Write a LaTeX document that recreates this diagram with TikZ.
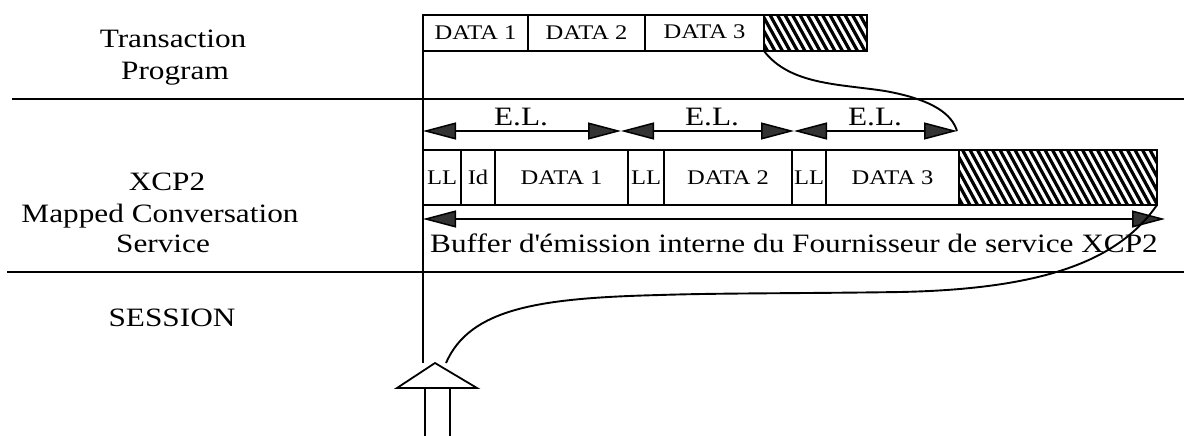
\documentclass[tikz,border=0pt]{standalone}
\usepackage{fontspec}
\setmainfont{Liberation Serif}[FakeStretch=1.18]
\usetikzlibrary{arrows.meta}
\begin{document}
\begin{tikzpicture}[x=1pt,y=-1pt,
  ln/.style={line width=1.6pt},
  crv/.style={line width=1.9pt},
  lbl/.style={font=\fontsize{26.5}{31}\selectfont, inner sep=0, anchor=base},
  cell/.style={draw, line width=1.5pt, inner sep=0, outer sep=0, anchor=north west,
    font=\fontsize{20.8}{23}\selectfont},
  hatchline/.style={line width=3.2pt},
  >={Triangle[length=33pt,width=17pt,fill=black!80]}
]
\useasboundingbox (0,0) rectangle (1184,436);

% separators
\coordinate (l1a) at (12,99);  \coordinate (l1b) at (1184,99);
\coordinate (l2a) at (7,272);  \coordinate (l2b) at (1184,272);
\draw[ln] (l1a) -- (l1b);
\draw[ln] (l2a) -- (l2b);

% left labels
\node[lbl] (tp1) at (173,48) {Transaction};
\node[lbl] (tp2) at (175,80) {Program};
\node[lbl] (x1) at (167,190) {XCP2};
\node[lbl] (x2) at (160,222) {Mapped Conversation};
\node[lbl] (x3) at (163,252) {Service};
\node[lbl] (ss) at (172,326) {SESSION};

% top row
\node[cell, minimum width=105pt, minimum height=36pt] (t1) at (423,15) {DATA 1};
\node[cell, minimum width=117pt, minimum height=36pt] (t2) at (528,15) {DATA 2};
\node[cell, minimum width=119pt, minimum height=36pt] (t3) at (645,15) {\raisebox{2pt}{DATA 3}};
\node[cell, minimum width=103pt, minimum height=36pt] (th) at (764,15) {};
\begin{scope}
  \clip (th.north west) rectangle (th.south east);
  \foreach \k in {-24,-16.5,...,110} \draw[hatchline] ([xshift=\k pt]th.north west) -- ++(20,36);
\end{scope}
\draw[line width=1.5pt] (th.north west) rectangle (th.south east);

% second row
\node[cell, minimum width=38pt, minimum height=55pt] (c1) at (423,150) {LL};
\node[cell, minimum width=34pt, minimum height=55pt] (c2) at (461,150) {Id};
\node[cell, minimum width=133pt, minimum height=55pt] (c3) at (495,150) {DATA 1};
\node[cell, minimum width=36pt, minimum height=55pt] (c4) at (628,150) {LL};
\node[cell, minimum width=128pt, minimum height=55pt] (c5) at (664,150) {DATA 2};
\node[cell, minimum width=34pt, minimum height=55pt] (c6) at (792,150) {LL};
\node[cell, minimum width=133pt, minimum height=55pt] (c7) at (826,150) {DATA 3};
\node[cell, minimum width=198pt, minimum height=55pt] (h2) at (959,150) {};
\begin{scope}
  \clip (h2.north west) rectangle (h2.south east);
  \foreach \k in {-34,-26.5,...,205} \draw[hatchline] ([xshift=\k pt]h2.north west) -- ++(30,55);
\end{scope}
\draw[line width=1.5pt] (h2.north west) rectangle (h2.south east);

% vertical guide line
\coordinate (vend) at (423,363);
\draw[ln] (t1.north west) -- (vend);

% E.L. arrows
\coordinate (e0) at (423,131);
\coordinate (e1) at (621,131);
\coordinate (e2) at (794,131);
\coordinate (e3) at (957,131);
\draw[line width=1.5pt, <->] (e0) -- (e1);
\draw[line width=1.5pt, <->] (e1) -- (e2);
\draw[line width=1.5pt, <->] (e2) -- (e3);
\node[lbl] (el1) at (521,125) {E.L.};
\node[lbl] (el2) at (712,125) {E.L.};
\node[lbl] (el3) at (875,125) {E.L.};

% buffer arrow
\coordinate (b0) at (423,219);
\coordinate (b1) at (1165,219);
\draw[line width=1.5pt, <->] (b0) -- (b1);
\node[lbl, anchor=base west] (buf) at (430,252) {Buffer d\textquotesingle émission interne du Fournisseur de service XCP2};

% curves
\draw[crv] (th.south west) .. controls (790,85) and (840,84) .. (885,91)
  .. controls (935,100) and (952,115) .. (e3);

\coordinate (cend) at (446,363);
\draw[crv] (h2.south east) .. controls (1120,258) and (1050,289) .. (900,292)
  .. controls (800,293.5) and (720,293) .. (660,295)
  .. controls (540,298) and (470,308) .. (cend);

% big hollow arrow
\coordinate (apex) at (435,363);
\coordinate (abl) at (397,388);
\coordinate (abr) at (477,388);
\coordinate (sl) at (425,388);
\coordinate (sr) at (450,388);
\coordinate (slb) at (425,436);
\coordinate (srb) at (450,436);
\draw[line width=1.8pt, line join=miter] (apex) -- (abr) -- (abl) -- cycle;
\draw[line width=1.8pt] (sl) -- (slb);
\draw[line width=1.8pt] (sr) -- (srb);
\end{tikzpicture}
\end{document}
